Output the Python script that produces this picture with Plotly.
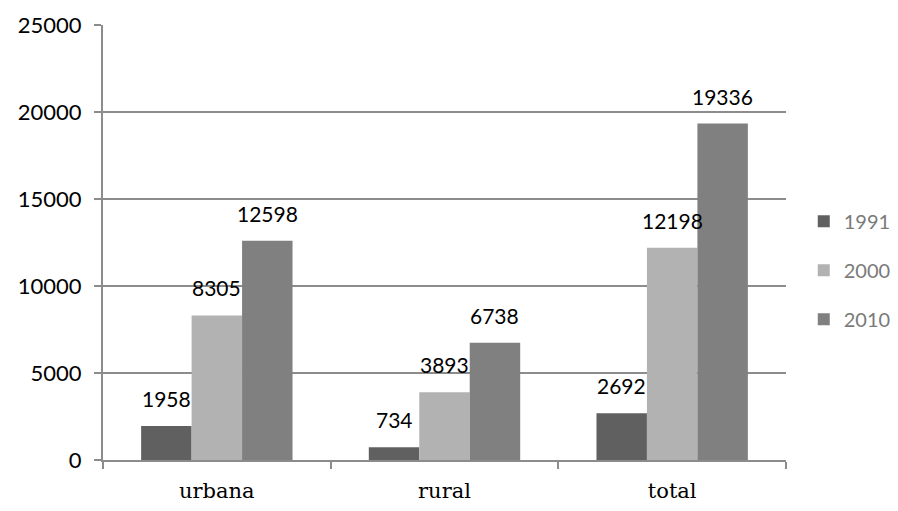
import plotly.graph_objects as go

categories = ["urbana", "rural", "total"]
years = ["1991", "2000", "2010"]
v1991 = [1958, 734, 2692]
v2000 = [8305, 3893, 12198]
v2010 = [12598, 6738, 19336]
colors = ["#606060", "#b2b2b2", "#808080"]

fig = go.Figure()
series = [v1991, v2000, v2010]
for name, vals, c in zip(years, series, colors):
    fig.add_trace(go.Bar(
        x=categories, y=vals, name=name, marker_color=c, marker_line_width=0,
        legendgroup=name,
    ))

# data labels above bars
bar_px = 683 / 3 * 0.665 / 3
for i, vals in enumerate(series):
    for cat, v in zip(categories, vals):
        fig.add_annotation(
            x=cat, y=v, text=str(v), showarrow=False,
            xshift=(i - 1) * bar_px, yshift=13, yanchor="bottom",
            font=dict(family="Lato", size=21, color="black"),
        )

fig.update_layout(
    width=898, height=511,
    margin=dict(l=103, r=112, t=25, b=51, autoexpand=False),
    plot_bgcolor="white", paper_bgcolor="white",
    barmode="group", bargap=0.335, bargroupgap=0,
    showlegend=True,
    legend=dict(x=1.026, y=0.436, xanchor="left", yanchor="middle",
                font=dict(family="Lato", size=20, color="#7a7a7a"),
                traceorder="grouped", tracegroupgap=20, itemwidth=30),
    xaxis=dict(showline=True, linecolor="#8c8c8c", linewidth=2,
               ticks="outside", tickson="boundaries", ticklen=7,
               tickcolor="#8c8c8c", tickwidth=2, ticklabelstandoff=11,
               tickfont=dict(family="DejaVu Serif", size=21, color="black")),
    yaxis=dict(range=[0, 25000], dtick=5000, tickformat="d", showline=True,
               linecolor="#8c8c8c", linewidth=2, showgrid=True,
               gridcolor="#8c8c8c", gridwidth=1.5,
               ticks="outside", ticklen=7, tickcolor="#8c8c8c", tickwidth=2,
               zeroline=False, ticklabelstandoff=8,
               tickfont=dict(family="Lato", size=22, color="black")),
)
fig.write_html("out.html")
